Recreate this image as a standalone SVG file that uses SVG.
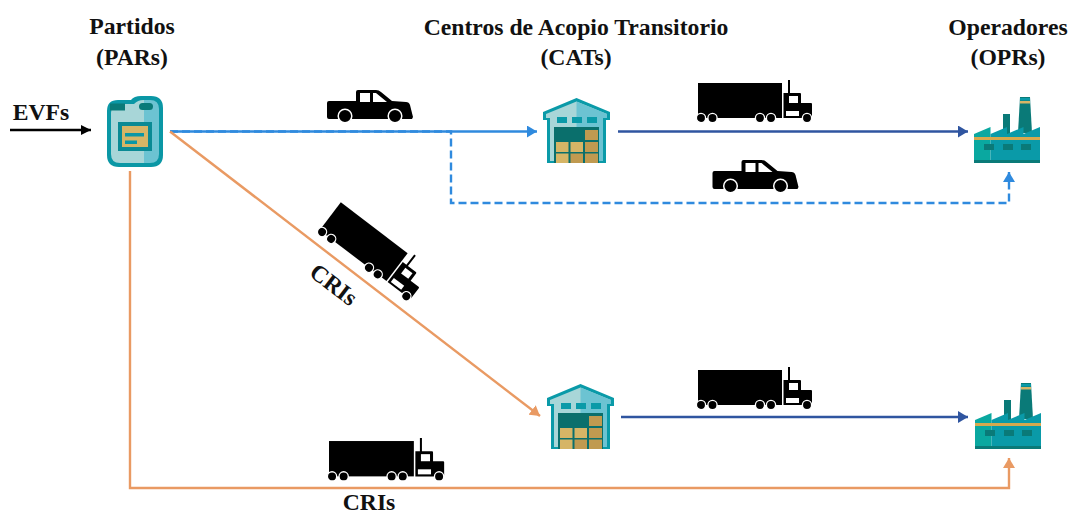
<svg xmlns="http://www.w3.org/2000/svg" width="1071" height="515" viewBox="0 0 1071 515">
<style>
text{font-family:"Liberation Serif","Times New Roman",serif;font-weight:bold;font-size:23.7px;fill:#111;text-anchor:middle}
.c{fill:none;stroke-width:2.4}
.lb{stroke:#2f8ade}.db{stroke:#2f55a0}.or{stroke:#e99a63}.bk{stroke:#000;stroke-width:2.4;fill:none}
.d{stroke-dasharray:8 4}
</style>
<defs>
<marker id="aL" markerUnits="userSpaceOnUse" markerWidth="11" markerHeight="12" refX="10" refY="6" orient="auto"><path d="M0 0L10 6L0 12z" fill="#2f8ade"/></marker>
<marker id="aD" markerUnits="userSpaceOnUse" markerWidth="11" markerHeight="12" refX="10" refY="6" orient="auto"><path d="M0 0L10 6L0 12z" fill="#2f55a0"/></marker>
<marker id="aO" markerUnits="userSpaceOnUse" markerWidth="11" markerHeight="12" refX="10" refY="6" orient="auto"><path d="M0 0L10 6L0 12z" fill="#e99a63"/></marker>
<marker id="aK" markerUnits="userSpaceOnUse" markerWidth="11" markerHeight="10" refX="10" refY="5" orient="auto"><path d="M0 0L10 5L0 10z" fill="#000"/></marker>
<g id="truck">
<rect x="1" y="3" width="84" height="35"/>
<path d="M91 0h2v13h10q1 0 1 1v9h10q1 0 1 1v13l-1 1H86.500V13h4.500z"/>
<rect x="92" y="16" width="9" height="7" fill="#fff"/>
<rect x="89" y="31" width="13" height="5" fill="#fff"/>
<g stroke="#fff" stroke-width="1.300"><circle cx="4" cy="38" r="4.600"/><circle cx="15.500" cy="38" r="4.600"/><circle cx="63" cy="38" r="4.600"/><circle cx="74" cy="38" r="4.600"/><circle cx="110" cy="38" r="4.600"/></g>
</g>
<g id="pickup">
<path d="M3 12H30V3q0-2 2-2H50q3 0 5 2L66 12L80 13q3 0 4 3l3 12-1 2H3q-2 0-2-2V14q0-2 2-2z"/>
<path d="M34 4h10v9H34zM47 4h3l11 9H47z" fill="#fff"/>
<g stroke="#fff" stroke-width="1.500"><circle cx="19" cy="27" r="6.800"/><circle cx="69" cy="27" r="6.800"/></g>
</g>
<g id="warehouse">
<path d="M33.500 0L67 14V22H63V65H4V22H0V14z" fill="#0a9aa8"/>
<path d="M33.500 3.500L3 16V20H7V63H60V20H64V16z" fill="#a8d6d8"/>
<path d="M33.500 3.500L64 16V20H60V63H33.500z" fill="#6cc3d2"/>
<rect x="14" y="19" width="10" height="6" fill="#0a9aa8"/><rect x="29" y="19" width="10" height="6" fill="#0a9aa8"/><rect x="44" y="19" width="10" height="6" fill="#0a9aa8"/>
<rect x="11" y="29" width="45" height="36" fill="#0a6f6c"/>
<rect x="42" y="32" width="13" height="10" fill="#c09a50"/>
<rect x="13" y="44" width="12.500" height="10" fill="#d6b566"/><rect x="27.500" y="44" width="12.500" height="10" fill="#d6b566"/><rect x="42" y="44" width="13" height="10" fill="#c09a50"/>
<rect x="13" y="55.500" width="12.500" height="9.500" fill="#d6b566"/><rect x="27.500" y="55.500" width="12.500" height="9.500" fill="#c09a50"/><rect x="42" y="55.500" width="13" height="9.500" fill="#c09a50"/>
</g>
<g id="factory">
<path d="M46 0H56L58 36H44z" fill="#0a7a78"/>
<rect x="46" y="1" width="10" height="2.500" fill="#0a9aa8"/><rect x="46" y="4" width="10" height="2.500" fill="#d6b566"/>
<rect x="29" y="17" width="7" height="20" fill="#0a7a78"/>
<path d="M0 37L16.500 30V66H0z" fill="#0aa8a0"/>
<path d="M16.500 37L33 30V37L49.500 30V37L66 30V66H16.500z" fill="#0a9aa8"/>
<rect y="40" width="66" height="3" fill="#d6a94e"/>
<rect x="10" y="47" width="10" height="6" fill="#0a7a78"/><rect x="29" y="47" width="10" height="6" fill="#0a7a78"/><rect x="47" y="47" width="10" height="6" fill="#0a7a78"/>
<rect y="63" width="66" height="3" fill="#0a7a78"/>
</g>
</defs>

<g id="connectors">
<path class="c lb" d="M170 131.500H537" marker-end="url(#aL)"/>
<path class="c lb d" d="M170 131.500H451V203H1009V172" marker-end="url(#aL)"/>
<path class="c db" d="M618 131.500H968" marker-end="url(#aD)"/>
<path class="c db" d="M621 417H968" marker-end="url(#aD)"/>
<path class="c or" d="M170 131.500L540 416" marker-end="url(#aO)"/>
<path class="c or" d="M130 171V488H1009V458" marker-end="url(#aO)"/>
<path class="bk" d="M10 130H91" marker-end="url(#aK)"/>
</g>

<g id="par">
<path d="M118 100h13q3-4 10-4h10q12 0 12 12v47q0 12-12 12H119q-12 0-12-12v-44q0-11 11-11z" fill="#0a97a5"/>
<path d="M119 104h15q4-4 9-4h1V163H120q-9 0-9-9v-41q0-9 8-9z" fill="#a8d6d8"/>
<path d="M144 100h6q9 0 9 9v45q0 9-9 9h-6z" fill="#6cc3d2"/>
<rect x="110" y="103.500" width="15" height="7" fill="#0a7a78"/>
<rect x="139" y="103" width="14" height="7" rx="3.500" fill="#0a7a78"/>
<rect x="118" y="122" width="34" height="29" fill="#0a8a94"/>
<rect x="122" y="126" width="26" height="21" fill="#d6b566"/>
<rect x="125" y="133" width="19" height="3.500" fill="#0a97a5"/><rect x="125" y="140.500" width="12" height="3.500" fill="#0a97a5"/>
</g>
<g id="cat1"><use href="#warehouse" x="543" y="98"/></g>
<g id="cat2"><use href="#warehouse" x="547" y="384"/></g>
<g id="opr1"><use href="#factory" x="974" y="97"/></g>
<g id="opr2"><use href="#factory" x="975" y="383"/></g>
<g id="vehicles">
<use href="#pickup" x="326" y="89"/>
<use href="#pickup" x="711.500" y="159"/>
<use href="#truck" x="697" y="80"/>
<use href="#truck" x="697" y="367"/>
<use href="#truck" transform="translate(328 438) scale(1.010)"/>
<use href="#truck" transform="translate(322 232) rotate(37.300) translate(-4 -38)"/>
</g>

<g id="labels">
<text x="132" y="34">Partidos</text>
<text x="132" y="65">(PARs)</text>
<text x="576" y="35">Centros de Acopio Transitorio</text>
<text x="576" y="65">(CATs)</text>
<text x="1008" y="35">Operadores</text>
<text x="1008" y="65">(OPRs)</text>
<text x="41" y="120">EVFs</text>
<text transform="translate(329 291) rotate(37.300)">CRIs</text>
<text x="369" y="510">CRIs</text>
</g>
</svg>
